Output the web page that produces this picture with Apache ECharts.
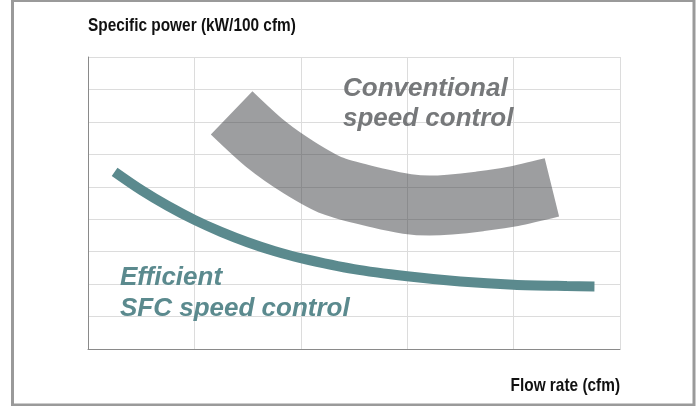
<!DOCTYPE html>
<html>
<head>
<meta charset="utf-8">
<script src="https://cdn.jsdelivr.net/npm/echarts@6/dist/echarts.min.js"></script>
<style>
html,body{margin:0;padding:0;background:#fff;}
#chart{width:698px;height:406px;}
</style>
</head>
<body>
<div id="chart"></div>
<script>
// Data (axis units: x 0..5, y 0..9, no tick labels shown)
const xTicks = [0, 1, 2, 3, 4, 5];
const yTicks = [0, 1, 2, 3, 4, 5, 6, 7, 8, 9];
const sfcX = [0.25, 0.5, 0.75, 1.0, 1.25, 1.5, 1.75, 2.0, 2.5, 3.0, 3.5, 4.0, 4.5, 4.76];
const sfcY = [5.46, 4.90, 4.41, 3.98, 3.61, 3.29, 3.02, 2.80, 2.46, 2.24, 2.08, 1.98, 1.94, 1.93];
const convX = [1.35, 1.68, 1.99, 2.3, 2.74, 3.0, 3.21, 3.4, 3.68, 3.99, 4.36];
const convY = [7.28, 6.29, 5.58, 5.03, 4.64, 4.47, 4.42, 4.45, 4.55, 4.70, 4.98];
const yTitle = 'Specific power (kW/100 cfm)';
const xTitle = 'Flow rate (cfm)';
const convLabel = ['Conventional', 'speed control'];
const sfcLabel = ['Efficient', 'SFC speed control'];

const sfcData = sfcX.map((x, i) => [x, sfcY[i]]);
const convData = convX.map((x, i) => [x, convY[i]]);

const chart = echarts.init(document.getElementById('chart'), null, {renderer: 'canvas'});
const sans = '"Liberation Sans", Arial, Helvetica, sans-serif';

chart.setOption({
  animation: false,
  backgroundColor: '#ffffff',
  grid: {left: 88, top: 57, right: 78, bottom: 57, containLabel: false},
  xAxis: {
    type: 'value', min: xTicks[0], max: xTicks[xTicks.length - 1], interval: 1,
    axisLine: {show: true, lineStyle: {color: '#8a8a8a', width: 1}},
    axisTick: {show: false}, axisLabel: {show: false},
    splitLine: {show: true, lineStyle: {color: '#dcdcdc', width: 1}}
  },
  yAxis: {
    type: 'value', min: yTicks[0], max: yTicks[yTicks.length - 1], interval: 1,
    axisLine: {show: true, onZero: false, lineStyle: {color: '#8a8a8a', width: 1}},
    axisTick: {show: false}, axisLabel: {show: false},
    splitLine: {show: true, lineStyle: {color: '#dcdcdc', width: 1}}
  },
  series: [
    {
      name: 'Conventional speed control', type: 'line', data: convData,
      smooth: 0.3, symbol: 'none', z: 2,
      lineStyle: {color: 'rgba(50,52,56,0.48)', width: 60, cap: 'butt'}
    },
    {
      name: 'Efficient SFC speed control', type: 'line', data: sfcData,
      smooth: 0.3, symbol: 'none', z: 3,
      lineStyle: {color: '#5b8a8e', width: 10, cap: 'butt'}
    }
  ],
  graphic: [
    {type: 'rect', shape: {x: 12.5, y: 0.5, width: 681.5, height: 404.5},
     style: {fill: 'none', stroke: '#9a9a9a', lineWidth: 3}, silent: true, z: 100},
    {type: 'text', x: 88, y: 25.5, scaleX: 0.81, z: 100, style: {text: yTitle, font: 'bold 19px ' + sans,
      fill: '#111', textAlign: 'left', textVerticalAlign: 'middle'}},
    {type: 'text', x: 620, y: 386, scaleX: 0.81, z: 100, style: {text: xTitle, font: 'bold 19px ' + sans,
      fill: '#111', textAlign: 'right', textVerticalAlign: 'middle'}},
    {type: 'text', x: 343, y: 89, z: 100, style: {text: convLabel[0], font: 'italic bold 26px ' + sans,
      fill: '#76787a', textAlign: 'left', textVerticalAlign: 'middle'}},
    {type: 'text', x: 343, y: 119, z: 100, style: {text: convLabel[1], font: 'italic bold 26px ' + sans,
      fill: '#76787a', textAlign: 'left', textVerticalAlign: 'middle'}},
    {type: 'text', x: 120, y: 278, z: 100, style: {text: sfcLabel[0], font: 'italic bold 26px ' + sans,
      fill: '#5b8a8e', textAlign: 'left', textVerticalAlign: 'middle'}},
    {type: 'text', x: 120, y: 309, z: 100, style: {text: sfcLabel[1], font: 'italic bold 26px ' + sans,
      fill: '#5b8a8e', textAlign: 'left', textVerticalAlign: 'middle'}}
  ]
});
</script>
</body>
</html>
